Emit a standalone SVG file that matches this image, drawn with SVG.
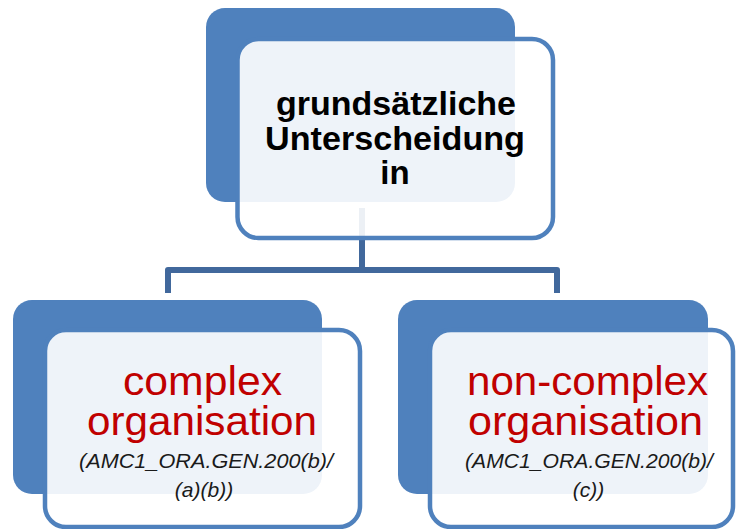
<svg xmlns="http://www.w3.org/2000/svg" width="736" height="529" viewBox="0 0 736 529">
<style>
.back{fill:#4F81BD;}
.front{fill:#FFFFFF;fill-opacity:0.9;stroke:#4F81BD;stroke-width:4.5;}
.conn{fill:none;stroke:#41689C;stroke-width:6;stroke-linejoin:round;}
.t1{font-family:"Liberation Sans",Arial,sans-serif;font-weight:bold;font-size:33px;fill:#000;text-anchor:middle;}
.t2{font-family:"Liberation Sans",Arial,sans-serif;font-size:40px;fill:#C00000;text-anchor:middle;}
.t3{font-family:"Liberation Sans",Arial,sans-serif;font-style:italic;font-size:21px;fill:#1A1A1A;text-anchor:middle;}
</style>
<rect width="736" height="529" fill="#FFFFFF"/>
<g id="connectors">
<path class="conn" d="M168,293 V270 H557 V293 M362,208 V270"/>
</g>
<g id="node-top">
<rect class="back" x="206" y="8" width="309" height="194" rx="19"/>
<rect class="front" x="237.5" y="39" width="315.5" height="199" rx="21"/>
<text class="t1" x="396" y="115" textLength="240" lengthAdjust="spacingAndGlyphs">grundsätzliche</text>
<text class="t1" x="395" y="150" textLength="260" lengthAdjust="spacingAndGlyphs">Unterscheidung</text>
<text class="t1" x="395" y="184">in</text>
</g>
<g id="node-complex">
<rect class="back" x="13" y="300" width="309" height="194" rx="19"/>
<rect class="front" x="45" y="330" width="315" height="197" rx="21"/>
<text class="t2" x="202.5" y="395" textLength="159" lengthAdjust="spacingAndGlyphs">complex</text>
<text class="t2" x="202" y="435" textLength="230" lengthAdjust="spacingAndGlyphs">organisation</text>
<text class="t3" x="206" y="468" textLength="254" lengthAdjust="spacingAndGlyphs">(AMC1_ORA.GEN.200(b)/</text>
<text class="t3" x="204" y="497">(a)(b))</text>
</g>
<g id="node-noncomplex">
<rect class="back" x="398" y="300" width="310" height="194" rx="19"/>
<rect class="front" x="430" y="330" width="303" height="197" rx="21"/>
<text class="t2" x="587.5" y="395" textLength="241" lengthAdjust="spacingAndGlyphs">non-complex</text>
<text class="t2" x="585.5" y="435" textLength="235" lengthAdjust="spacingAndGlyphs">organisation</text>
<text class="t3" x="589" y="468" textLength="248" lengthAdjust="spacingAndGlyphs">(AMC1_ORA.GEN.200(b)/</text>
<text class="t3" x="588.5" y="497">(c))</text>
</g>
</svg>
